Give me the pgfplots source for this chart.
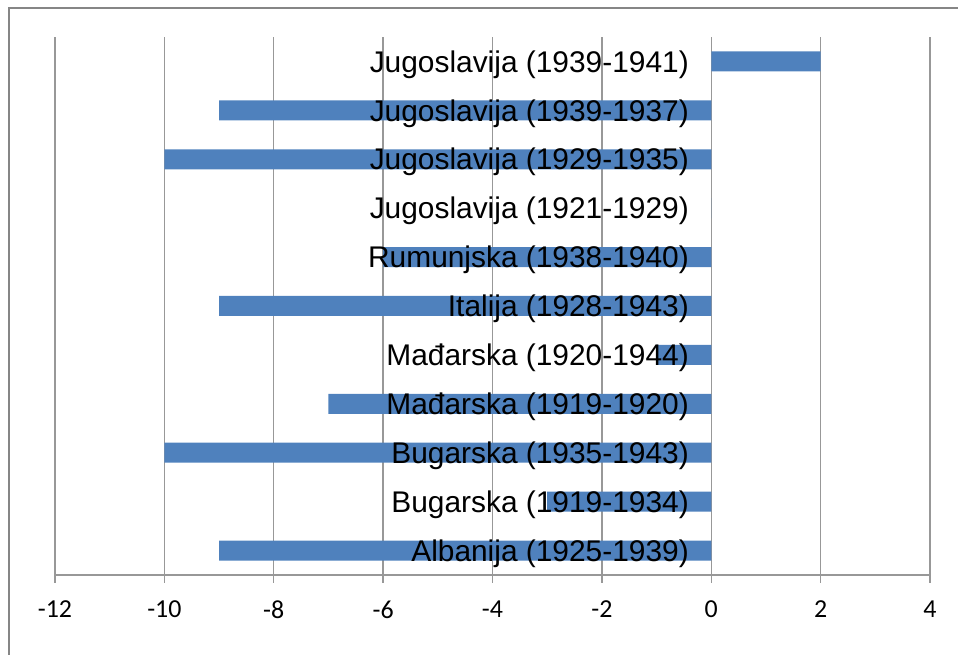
\documentclass[border=0pt]{standalone}
\usepackage{pgfplots}
\pgfplotsset{compat=1.18}
\usepackage{pgfplotstable}
\usepackage{fontspec}
\setmainfont{Liberation Sans}
\newfontfamily\carlito{Carlito}
\definecolor{barblue}{HTML}{4F81BD}
\definecolor{gridgray}{HTML}{989898}
\definecolor{framegray}{HTML}{868686}
\pgfplotsset{
  layers/barlabels/.define layer set={axis background,axis grid,axis ticks,axis lines,pre main,main,axis tick labels,axis descriptions,axis foreground}{
    grid style={/pgfplots/on layer=axis grid},
    tick style={/pgfplots/on layer=axis ticks},
    axis line style={/pgfplots/on layer=axis lines},
    label style={/pgfplots/on layer=axis descriptions},
    legend style={/pgfplots/on layer=axis descriptions},
    title style={/pgfplots/on layer=axis descriptions},
    colorbar style={/pgfplots/on layer=axis descriptions},
    ticklabel style={/pgfplots/on layer=axis tick labels},
    axis background@ style={/pgfplots/on layer=axis background},
    3d box foreground style={/pgfplots/on layer=axis foreground},
  },
}
\pgfplotstableread[col sep=comma]{
idx,value,label
0,-9,Albanija (1925-1939)
1,-3,Bugarska (1919-1934)
2,-10,Bugarska (1935-1943)
3,-7,Mađarska (1919-1920)
4,-1,Mađarska (1920-1944)
5,-9,Italija (1928-1943)
6,-6,Rumunjska (1938-1940)
7,0,Jugoslavija (1921-1929)
8,-10,Jugoslavija (1929-1935)
9,-9,Jugoslavija (1939-1937)
10,2,Jugoslavija (1939-1941)
}\data
\begin{document}
\begin{tikzpicture}
\begin{axis}[
  set layers=barlabels,
  scale only axis, width=875bp, height=538bp,
  xbar, bar width=20bp,
  xmin=-12, xmax=4, ymin=-0.5, ymax=10.5,
  xtick={-12,-10,...,4},
  xticklabels={-12,-10,-8,-6,-4,-2,0,2,4},
  ytick={0,...,10},
  yticklabels from table={\data}{label},
  axis x line*=bottom, axis y line*=left,
  y axis line style={draw=none},
  x axis line style={gridgray, line width=1.3bp},
  xmajorgrids, grid style={gridgray, line width=1.3bp},
  tick align=outside, major tick length=8bp,
  xtick style={gridgray, line width=1.3bp},
  ytick style={draw=none},
  xticklabel style={font=\carlito\fontsize{26}{30}\selectfont, text=black, yshift=-14bp},
  yticklabel style={font=\fontsize{30}{35}\selectfont, anchor=east, inner sep=0pt, xshift=642bp, yshift=-3bp, text=black},
]
\addplot[fill=barblue, draw=none, bar shift=0pt] table[x=value, y=idx] {\data};
\end{axis}
\draw[framegray, line width=2.5bp] (-46bp,-80bp) -- (-46bp,567bp) -- (903bp,567bp);
\pgfresetboundingbox
\useasboundingbox (-55bp,-80bp) rectangle (903bp,575bp);
\end{tikzpicture}
\end{document}
